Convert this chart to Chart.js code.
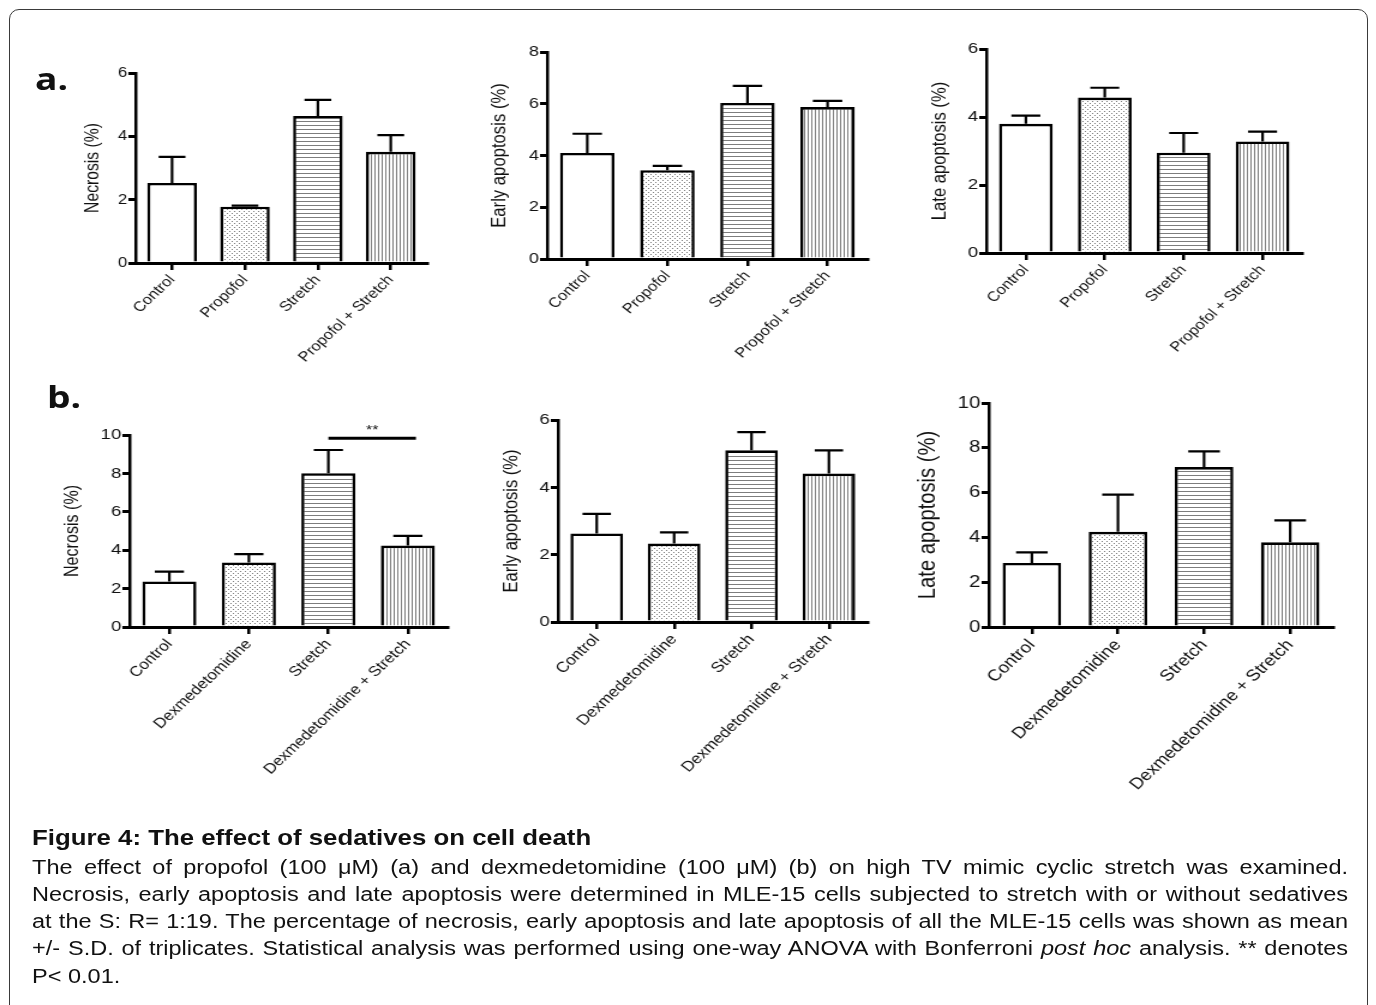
<!DOCTYPE html>
<html>
<head>
<meta charset="utf-8">
<script src="https://cdn.jsdelivr.net/npm/chart.js@4.4.1/dist/chart.umd.min.js"></script>
<style>
  html, body { margin: 0; padding: 0; background: #fff; width: 1376px; height: 1005px; overflow: hidden; }
  body { font-family: "Liberation Sans", Arial, sans-serif; color: #111; }
  #frame { position: absolute; left: 9px; top: 9px; width: 1357px; height: 1100px; border: 1.3px solid #3a3a3a; border-radius: 10px; }
  /* the source figure is stretched sideways, so everything is drawn narrow and scaled in x */
  #stage { position: absolute; left: 0; top: 0; width: 1147px; height: 1005px; transform: scaleX(1.2); transform-origin: 0 0; }
  #stage canvas { position: absolute; }
  .panel { position: absolute; font-family: "Open Sans", sans-serif; font-weight: 700; font-size: 31px; line-height: 31px; color: #111; }
  #cap-title { position: absolute; left: 26.7px; top: 825.5px; font-weight: 700; font-size: 21.5px; line-height: 24px; white-space: nowrap; }
  #cap-body { position: absolute; left: 26.7px; top: 853.5px; width: 1096.7px; font-size: 19.6px; line-height: 27.3px; }
  #cap-body div { text-align: justify; text-align-last: justify; white-space: nowrap; }
  #cap-body div.last { text-align-last: left; }
</style>
</head>
<body>
<div id="frame"></div>
<div id="stage">
  <div class="panel" style="left:29.2px; top:63px;">a.</div>
  <div class="panel" style="left:39.2px; top:381px;">b.</div>
  <div id="cap-title">Figure 4: The effect of sedatives on cell death</div>
  <div id="cap-body">
    <div>The effect of propofol (100 μM) (a) and dexmedetomidine (100 μM) (b) on high TV mimic cyclic stretch was examined.</div>
    <div>Necrosis, early apoptosis and late apoptosis were determined in MLE-15 cells subjected to stretch with or without sedatives</div>
    <div>at the S: R= 1:19. The percentage of necrosis, early apoptosis and late apoptosis of all the MLE-15 cells was shown as mean</div>
    <div>+/- S.D. of triplicates. Statistical analysis was performed using one-way ANOVA with Bonferroni <i>post hoc</i> analysis. ** denotes</div>
    <div class="last">P&lt; 0.01.</div>
  </div>
</div>
<script>
// groups
const propofolGroups = ['Control', 'Propofol', 'Stretch', 'Propofol + Stretch'];
const dexGroups = ['Control', 'Dexmedetomidine', 'Stretch', 'Dexmedetomidine + Stretch'];

// row a (propofol): mean and S.D.
const aNecrosisMean = [2.53, 1.78, 4.64, 3.51];
const aNecrosisSD   = [0.82, 0.03, 0.51, 0.53];
const aEarlyMean    = [4.10, 3.43, 6.03, 5.87];
const aEarlySD      = [0.74, 0.17, 0.66, 0.24];
const aLateMean     = [3.80, 4.57, 2.95, 3.28];
const aLateSD       = [0.24, 0.29, 0.58, 0.29];

// row b (dexmedetomidine)
const bNecrosisMean = [2.37, 3.36, 8.01, 4.24];
const bNecrosisSD   = [0.51, 0.44, 1.21, 0.51];
const bEarlyMean    = [2.63, 2.33, 5.10, 4.41];
const bEarlySD      = [0.58, 0.33, 0.54, 0.69];
const bLateMean     = [2.86, 4.25, 7.14, 3.78];
const bLateSD       = [0.47, 1.66, 0.70, 0.98];

// y axis tops (step 2)
const yMaxes = [6, 8, 6, 10, 6, 10];
const yTitles = ['Necrosis (%)', 'Early apoptosis (%)', 'Late apoptosis (%)', 'Necrosis (%)', 'Early apoptosis (%)', 'Late apoptosis (%)'];

// ** between Stretch and Dexmedetomidine + Stretch
const sigPair = [2, 3];
const sigLevel = 9.83;
const sigText = '**';

Chart.defaults.font.family = '"Liberation Sans", Arial, sans-serif';
Chart.defaults.color = '#111';

function makePattern(kind) {
  const c = document.createElement('canvas');
  c.width = kind === 'vlines' ? 3 : 4;
  c.height = 4;
  const g = c.getContext('2d');
  g.fillStyle = '#fff';
  g.fillRect(0, 0, c.width, c.height);
  g.fillStyle = '#7d7d7d';
  if (kind === 'dots') { g.fillRect(0, 0, 1, 1); g.fillRect(2, 2, 1, 1); }
  if (kind === 'hlines') g.fillRect(0, 0, 4, 1);
  if (kind === 'vlines') g.fillRect(0, 0, 1, 4);
  return g.createPattern(c, 'repeat');
}
const fills = ['#ffffff', makePattern('dots'), makePattern('hlines'), makePattern('vlines')];

const errorBars = {
  id: 'errorBars',
  afterDatasetsDraw(chart) {
    const ctx = chart.ctx, y = chart.scales.y;
    const ds = chart.data.datasets[0];
    ctx.save();
    ctx.strokeStyle = '#000';
    ctx.lineWidth = 2.2;
    chart.getDatasetMeta(0).data.forEach((bar, i) => {
      const top = y.getPixelForValue(ds.data[i] + ds.sd[i]);
      const half = bar.width * 0.27;
      ctx.beginPath();
      ctx.moveTo(bar.x, bar.y);
      ctx.lineTo(bar.x, top);
      ctx.moveTo(bar.x - half, top);
      ctx.lineTo(bar.x + half, top);
      ctx.stroke();
    });
    ctx.restore();
  }
};

const sigLine = {
  id: 'sigLine',
  afterDatasetsDraw(chart, args, opts) {
    if (!opts || !opts.pair) return;
    const bars = chart.getDatasetMeta(0).data;
    const a = bars[opts.pair[0]], b = bars[opts.pair[1]];
    const yy = chart.scales.y.getPixelForValue(opts.level);
    const x1 = a.x, x2 = b.x + b.width * 0.15;
    const ctx = chart.ctx;
    ctx.save();
    ctx.strokeStyle = '#000';
    ctx.lineWidth = 3;
    ctx.beginPath(); ctx.moveTo(x1, yy); ctx.lineTo(x2, yy); ctx.stroke();
    ctx.fillStyle = '#111';
    ctx.font = '13px "Liberation Sans", Arial, sans-serif';
    ctx.textAlign = 'center';
    ctx.textBaseline = 'bottom';
    ctx.fillText(opts.text, (x1 + x2) / 2, yy - 1);
    ctx.restore();
  }
};

// layout of each panel, in the unstretched frame (x = page x / 1.2)
const panels = [
  { ax: 113.3, ar: 356.7, yt: 73,    yb: 263,   gap: 35.8, tick: 14,   xf: 13.8, tf: 15.7 },
  { ax: 455.8, ar: 722.5, yt: 51.7,  yb: 259,   gap: 39.2, tick: 15,   xf: 13.8, tf: 16.7 },
  { ax: 821.7, ar: 1085,  yt: 49.3,  yb: 253,   gap: 38.3, tick: 15.5, xf: 13.8, tf: 16.6 },
  { ax: 108.3, ar: 373.3, yt: 435,   yb: 627.3, gap: 47.5, tick: 15.5, xf: 14.2, tf: 16.1 },
  { ax: 465,   ar: 722.5, yt: 420,   yb: 621.7, gap: 38.3, tick: 15.5, xf: 14.5, tf: 16.5 },
  { ax: 824.2, ar: 1110.8, yt: 403.3, yb: 627.3, gap: 50.8, tick: 17,  xf: 15.8, tf: 20.2 }
];

const series = [
  [propofolGroups, aNecrosisMean, aNecrosisSD],
  [propofolGroups, aEarlyMean, aEarlySD],
  [propofolGroups, aLateMean, aLateSD],
  [dexGroups, bNecrosisMean, bNecrosisSD],
  [dexGroups, bEarlyMean, bEarlySD],
  [dexGroups, bLateMean, bLateSD]
];

const stage = document.getElementById('stage');
const YW = 80, PT = 20, PR = 12, XH = 190;

panels.forEach((p, k) => {
  const [labels, means, sds] = series[k];
  const cv = document.createElement('canvas');
  const w = Math.round(p.ar - p.ax) + YW + PR;
  const h = Math.round(p.yb - p.yt) + PT + XH;
  cv.width = w; cv.height = h;
  cv.style.left = (p.ax - YW) + 'px';
  cv.style.top = (p.yt - PT) + 'px';
  cv.style.width = w + 'px';
  cv.style.height = h + 'px';
  stage.appendChild(cv);

  const lh = p.tf * 1.2;
  new Chart(cv, {
    type: 'bar',
    data: {
      labels: labels,
      datasets: [{
        data: means,
        sd: sds,
        backgroundColor: fills,
        borderColor: '#000',
        borderWidth: 2.6,
        borderSkipped: 'bottom',
        barPercentage: 0.68,
        categoryPercentage: 1
      }]
    },
    options: {
      responsive: false,
      animation: false,
      events: [],
      layout: { padding: { left: 0, top: PT, right: PR, bottom: 0 } },
      plugins: {
        legend: { display: false },
        tooltip: { enabled: false },
        sigLine: k === 3 ? { pair: sigPair, level: sigLevel, text: sigText } : {}
      },
      scales: {
        x: {
          z: 1,
          offset: true,
          grid: { display: true, drawOnChartArea: false, drawTicks: true, offset: false, tickLength: 7, tickWidth: 2.5, tickColor: '#000', lineWidth: 2.5, color: '#000' },
          border: { display: true, color: '#000', width: 3 },
          ticks: { autoSkip: false, minRotation: 48, maxRotation: 48, padding: 2, font: { size: p.xf }, color: '#111' },
          afterFit(s) { s.height = XH; }
        },
        y: {
          min: 0,
          max: yMaxes[k],
          ticks: { stepSize: 2, padding: 1, font: { size: p.tick }, color: '#111' },
          grid: { display: true, drawOnChartArea: false, drawTicks: true, tickLength: 6, tickWidth: 3, tickColor: '#000', lineWidth: 3, color: '#000' },
          border: { display: true, color: '#000', width: 2.5 },
          title: { display: true, text: yTitles[k], color: '#111', font: { size: p.tf }, padding: { top: YW - p.gap - lh / 2, bottom: 0 } },
          afterFit(s) { s.width = YW; }
        }
      }
    },
    plugins: [errorBars, sigLine]
  });
});
</script>
</body>
</html>
